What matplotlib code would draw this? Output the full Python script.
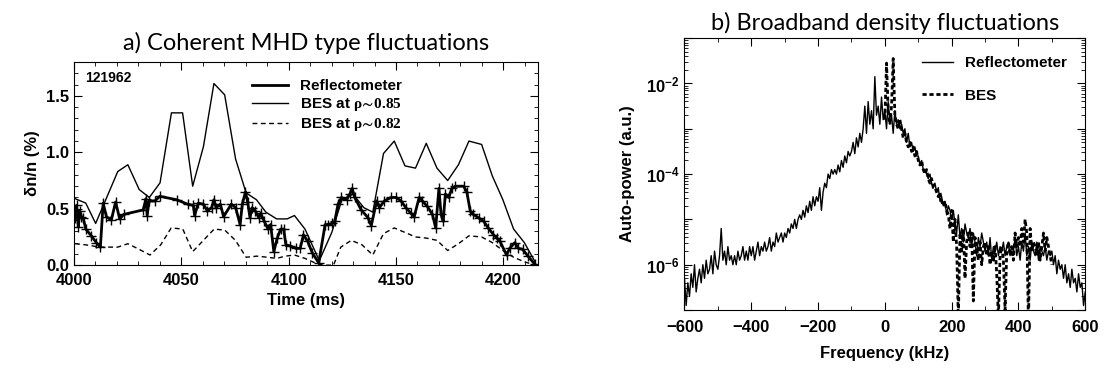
import numpy as np
import matplotlib
matplotlib.use('Agg')
import matplotlib.pyplot as plt
from matplotlib.ticker import MultipleLocator, LogLocator, NullFormatter

#%% 데이터
# a) 시간(ms) - dn/n(%)
refl_t = [4000.5, 4001.2, 4002, 4002.6, 4003.5, 4004.3, 4005.5, 4008.1, 4010.4, 4012.3,
          4013.6, 4015.1, 4017.4, 4019.4, 4021.3, 4023.2, 4032.3, 4033.5, 4034.1, 4035,
          4037.7, 4040, 4047.8, 4053, 4055.6, 4056.2, 4057.9, 4060.3, 4062.1, 4064.1,
          4065.2, 4066.2, 4068.2, 4069.7, 4073.3, 4075.3, 4077.4, 4078.4, 4079.9, 4080.9,
          4082, 4083, 4084.5, 4086.1, 4087, 4088.6, 4090.4, 4091.6, 4093.1, 4094.7,
          4096.3, 4097.7, 4098.7, 4100.8, 4103.3, 4105.4, 4106.9, 4108.9, 4111, 4114,
          4117, 4118.5, 4120, 4121.5, 4123, 4124.6, 4127, 4128.5, 4129.6, 4130.8,
          4133.8, 4137, 4138.5, 4141, 4142.3, 4144.6, 4147.7, 4150, 4152.3, 4154.6,
          4157, 4158.5, 4160.8, 4162.3, 4164.6, 4167, 4168.5, 4170, 4171, 4172,
          4173, 4174.6, 4176, 4177.7, 4181.5, 4183, 4184.6, 4186, 4188.5, 4190.8,
          4193, 4195.4, 4197, 4198.5, 4201.5, 4203, 4205.4, 4207, 4209, 4211.5, 4214.6]
refl_v = [0.42, 0.53, 0.34, 0.48, 0.43, 0.42, 0.32, 0.26, 0.20, 0.16,
          0.55, 0.43, 0.40, 0.56, 0.41, 0.45, 0.49, 0.59, 0.44, 0.57,
          0.57, 0.61, 0.58, 0.54, 0.53, 0.44, 0.55, 0.54, 0.48, 0.51,
          0.58, 0.51, 0.54, 0.43, 0.54, 0.51, 0.36, 0.54, 0.65, 0.56,
          0.42, 0.51, 0.48, 0.42, 0.46, 0.39, 0.32, 0.36, 0.12, 0.24,
          0.32, 0.32, 0.18, 0.17, 0.15, 0.15, 0.27, 0.21, 0.11, 0.02,
          0.36, 0.36, 0.37, 0.39, 0.54, 0.60, 0.58, 0.63, 0.68, 0.60,
          0.49, 0.42, 0.35, 0.57, 0.51, 0.57, 0.60, 0.60, 0.57, 0.51,
          0.46, 0.43, 0.60, 0.57, 0.52, 0.45, 0.33, 0.68, 0.45, 0.39,
          0.63, 0.60, 0.68, 0.70, 0.70, 0.65, 0.48, 0.45, 0.42, 0.39,
          0.33, 0.27, 0.24, 0.21, 0.09, 0.15, 0.20, 0.15, 0.14, 0.08, 0.01]

bes85_t = [4000.5, 4005.5, 4010.1, 4020.4, 4025.1, 4030.4, 4035.1, 4040.1, 4045.4, 4050.6,
           4055.3, 4060.3, 4065.2, 4070.2, 4075.3, 4080.2, 4085, 4089.4, 4094.4, 4099.3,
           4102.7, 4107.6, 4114.3, 4120.1, 4124.8, 4130, 4135, 4139.2, 4144.2, 4149.2,
           4154.2, 4159.1, 4164.1, 4169.1, 4174.1, 4179.1, 4184, 4189.9, 4194.9, 4199.8,
           4204.8, 4209.8, 4214.8]
bes85_v = [0.59, 0.55, 0.37, 0.83, 0.89, 0.67, 0.60, 0.73, 1.35, 1.35,
           0.70, 1.05, 1.61, 1.51, 0.94, 0.64, 0.58, 0.47, 0.41, 0.41,
           0.44, 0.32, 0.04, 0.29, 0.58, 0.63, 0.51, 0.47, 0.99, 1.10,
           0.88, 0.86, 1.08, 0.86, 0.75, 0.89, 1.10, 1.07, 0.79, 0.58,
           0.32, 0.20, 0.03]

bes82_t = [4000.5, 4005.5, 4012.1, 4020.4, 4025.1, 4030.4, 4035.4, 4040.4, 4045.3, 4050.7,
           4055.3, 4060.3, 4065.3, 4070.3, 4075.2, 4080.2, 4085.2, 4090.2, 4094.4, 4098.5,
           4102.7, 4107.6, 4113.5, 4116.8, 4120.9, 4124.3, 4129.2, 4134.2, 4139.2, 4144.2,
           4149.2, 4154.2, 4159.1, 4164.1, 4169.1, 4174.1, 4179.1, 4184, 4189.9, 4194.9,
           4199.8, 4204.8, 4209.8, 4214.8]
bes82_v = [0.19, 0.18, 0.16, 0.16, 0.19, 0.14, 0.09, 0.18, 0.33, 0.32,
           0.12, 0.22, 0.32, 0.31, 0.22, 0.07, 0.08, 0.07, 0.06, 0.08,
           0.09, 0.06, 0.01, 0.0, 0.0, 0.16, 0.22, 0.18, 0.09, 0.28,
           0.33, 0.29, 0.25, 0.24, 0.22, 0.13, 0.19, 0.26, 0.25, 0.20,
           0.13, 0.07, 0.03, 0.0]

# b) 주파수(kHz) - auto-power, log10 값으로 입력
refl_f = np.arange(-600, 601, 5)
refl_log = [-6.3, -6.9, -6.4, -6.7, -6.2, -6.5, -6.0, -6.6, -6.3, -6.1,
            -6.4, -6.0, -6.3, -5.9, -6.2, -6.1, -5.8, -6.2, -5.7, -6.0,
            -6.1, -5.8, -5.2, -5.9, -5.7, -6.0, -5.6, -5.9, -5.8, -6.0,
            -5.8, -6.0, -5.7, -5.9, -5.8, -5.6, -5.9, -5.7, -5.9, -5.6,
            -5.8, -5.6, -5.9, -5.7, -5.5, -5.8, -5.6, -5.7, -5.5, -5.7,
            -5.6, -5.4, -5.7, -5.5, -5.6, -5.3, -5.5, -5.4, -5.3, -5.5,
            -5.3, -5.4, -5.2, -5.3, -5.1, -5.2, -5.0, -5.2, -5.0, -4.9,
            -5.0, -4.8, -4.95, -4.7, -4.85, -4.6, -4.8, -4.5, -4.7, -4.5,
            -4.6, -4.3, -4.8, -4.4, -4.2, -4.3, -4.0, -4.1, -3.9, -4.0,
            -3.9, -4.0, -3.8, -3.95, -3.7, -3.85, -3.6, -3.75, -3.5, -3.6,
            -3.5, -3.3, -3.55, -3.2, -3.4, -3.1, -3.3, -3.0, -2.5, -3.1,
            -2.4, -2.9, -2.6, -3.0, -1.85, -2.7, -2.5, -2.9, -2.3, -2.8,
            -2.6, -3.0, -2.4, -2.9, -2.7, -3.1, -2.6, -2.9, -2.8, -3.0,
            -2.9, -3.1, -3.0, -3.3, -3.1, -3.4, -3.3, -3.5, -3.4, -3.6,
            -3.6, -3.8, -3.7, -3.9, -3.9, -4.0, -4.1, -4.0, -4.2, -4.3,
            -4.2, -4.4, -4.3, -4.6, -4.5, -4.7, -4.6, -4.9, -4.7, -4.8,
            -5.0, -4.8, -5.1, -5.3, -4.9, -5.4, -5.2, -5.5, -5.1, -5.3,
            -5.4, -5.2, -5.6, -5.3, -5.5, -5.8, -5.4, -5.6, -5.3, -5.5,
            -5.7, -5.5, -5.8, -5.4, -5.9, -5.6, -5.7, -5.5, -5.8, -5.6,
            -5.7, -5.5, -5.8, -5.6, -5.5, -5.8, -5.6, -5.7, -5.4, -5.8,
            -5.6, -5.9, -5.5, -5.7, -5.3, -5.8, -5.6, -5.9, -5.5, -5.7,
            -5.8, -5.5, -5.9, -5.6, -5.7, -5.8, -5.6, -5.9, -5.7, -5.8,
            -5.7, -6.0, -5.8, -6.2, -5.9, -6.1, -6.0, -6.3, -6.0, -6.4,
            -6.2, -6.5, -6.1, -6.4, -6.3, -6.6, -6.2, -6.5, -6.4, -6.9,
            -6.6]

bes_f = np.arange(0, 501, 5)
bes_log = [-2.8, -1.55, -2.6, -2.9, -2.5, -1.45, -2.7, -2.9, -3.0, -2.8,
           -3.0, -3.2, -3.1, -3.3, -3.4, -3.3, -3.5, -3.4, -3.6, -3.5,
           -3.7, -3.8, -3.7, -3.9, -4.0, -3.9, -4.1, -4.2, -4.1, -4.3,
           -4.3, -4.4, -4.5, -4.4, -4.6, -4.7, -4.6, -4.8, -4.9, -5.2,
           -4.8, -5.5, -5.0, -5.6, -7.2, -5.3, -5.7, -5.2, -6.3, -5.5,
           -5.3, -5.6, -5.3, -6.8, -5.4, -5.6, -5.9, -5.5, -6.0, -5.6,
           -5.5, -5.8, -5.6, -6.0, -5.7, -5.9, -5.6, -6.2, -7.2, -5.8,
           -5.6, -5.9, -7.0, -5.7, -5.5, -5.8, -5.6, -5.9, -5.3, -5.6,
           -5.4, -5.6, -5.2, -5.5, -5.0, -5.3, -7.3, -5.2, -5.7, -5.5,
           -5.6, -5.8, -5.5, -5.9, -5.6, -5.3, -5.7, -5.4, -5.6, -5.8,
           -6.0]

#%% 폰트 설정
plt.rcParams['font.family'] = ['Liberation Sans', 'DejaVu Sans']
plt.rcParams['font.weight'] = 'bold'
plt.rcParams['mathtext.fontset'] = 'custom'
plt.rcParams['mathtext.rm'] = 'Liberation Serif'
plt.rcParams['mathtext.it'] = 'Liberation Serif'
plt.rcParams['mathtext.bf'] = 'Liberation Sans:bold'
plt.rcParams['mathtext.fallback'] = 'stix'

fig = plt.figure(figsize=(11.04, 3.74), dpi=100)

#%% a) 그래프
ax1 = fig.add_axes([0.067, 0.291, 0.420, 0.543])
ax1.plot(refl_t, refl_v, color='k', lw=2.0, marker='+', ms=6.5, mew=1.0, label='Reflectometer')
ax1.plot(bes85_t, bes85_v, color='k', lw=1.0, label=r'BES at $\mathrm{\rho\!\sim\!0.85}$')
ax1.plot(bes82_t, bes82_v, color='k', lw=1.0, ls=(0, (3.5, 2.5)), label=r'BES at $\mathrm{\rho\!\sim\!0.82}$')

ax1.set_xlim(4000, 4216)
ax1.set_ylim(0, 1.8)
ax1.xaxis.set_major_locator(MultipleLocator(50))
ax1.xaxis.set_minor_locator(MultipleLocator(10))
ax1.yaxis.set_major_locator(MultipleLocator(0.5))
ax1.yaxis.set_minor_locator(MultipleLocator(0.1))
ax1.yaxis.set_major_formatter(matplotlib.ticker.FormatStrFormatter('%.1f'))
ax1.tick_params(which='both', direction='in', top=True, right=True, labelsize=12)
ax1.tick_params(which='major', length=6)
ax1.tick_params(which='minor', length=3)
ax1.tick_params(axis='x', pad=6)
ax1.set_xlabel('Time (ms)', fontsize=12, fontweight='bold', labelpad=3)
ax1.set_ylabel(r'δn/n (%)', fontsize=12, fontweight='bold')
ax1.text(0.025, 0.92, '121962', transform=ax1.transAxes, fontsize=10, fontweight='bold', va='center')
leg1 = ax1.legend(loc='upper left', bbox_to_anchor=(0.36, 0.97), frameon=False, fontsize=11,
                  handlelength=2.4, handletextpad=0.8, labelspacing=0.2, borderaxespad=0.3)
leg1.legend_handles[0].set_marker('')
ax1.set_title('a) Coherent MHD type fluctuations', fontsize=17, fontweight='normal',
              family=['Lato', 'DejaVu Sans'], pad=9)

#%% b) 그래프
ax2 = fig.add_axes([0.620, 0.171, 0.363, 0.727])
ax2.plot(refl_f, 10.0 ** np.array(refl_log), color='k', lw=1.0, label='Reflectometer')
ax2.plot(bes_f, 10.0 ** np.array(bes_log), color='k', lw=2.0, ls=(0, (1.5, 1.0)), label='BES')

ax2.set_yscale('log')
ax2.set_xlim(-600, 600)
ax2.set_ylim(1e-7, 1e-1)
ax2.xaxis.set_major_locator(MultipleLocator(200))
ax2.xaxis.set_minor_locator(MultipleLocator(100))
ax2.yaxis.set_major_locator(LogLocator(base=10, numticks=10))
ax2.yaxis.set_minor_locator(LogLocator(base=10, subs=np.arange(2, 10), numticks=20))
ax2.yaxis.set_minor_formatter(NullFormatter())
ax2.yaxis.set_major_formatter(matplotlib.ticker.FuncFormatter(
    lambda y, pos: r'$\mathbf{10^{%d}}$' % round(np.log10(y)) if round(np.log10(y)) in (-2, -4, -6) else ''))
ax2.tick_params(which='both', direction='in', top=True, right=True, labelsize=12)
ax2.tick_params(which='major', length=6)
ax2.tick_params(which='minor', length=3)
ax2.tick_params(axis='x', pad=7)
ax2.set_xlabel('Frequency (kHz)', fontsize=12, fontweight='bold', labelpad=8)
ax2.set_ylabel('Auto-power (a.u.)', fontsize=12, fontweight='bold', labelpad=8)
ax2.legend(loc='upper right', frameon=False, fontsize=11, handlelength=2.0,
           handletextpad=0.8, labelspacing=1.2, borderaxespad=0.8)
ax2.set_title('b) Broadband density fluctuations', fontsize=17, fontweight='normal',
              family=['Lato', 'DejaVu Sans'], pad=6)

plt.savefig('out.png', dpi=100)
